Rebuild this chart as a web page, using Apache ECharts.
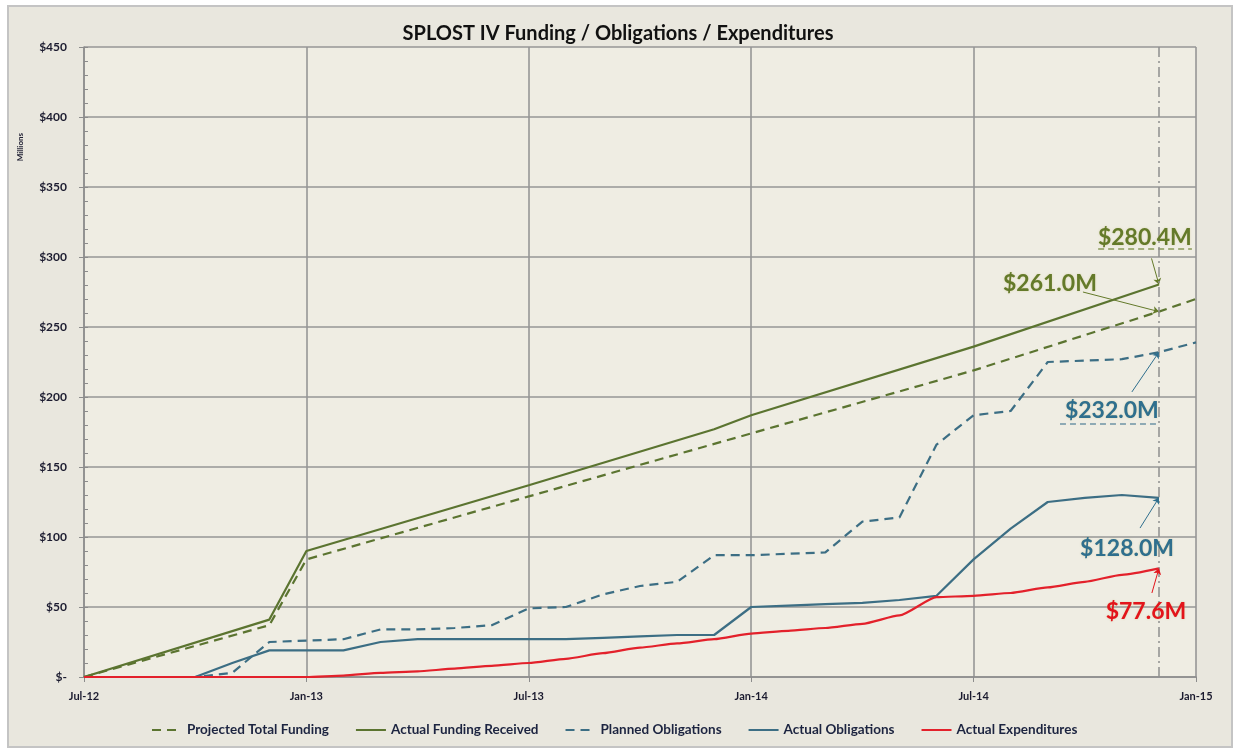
<!DOCTYPE html>
<html>
<head>
<meta charset="utf-8">
<script src="https://cdn.jsdelivr.net/npm/echarts@6/dist/echarts.min.js"></script>
<style>
  html, body { margin: 0; padding: 0; background: #fff; }
  #chart { width: 1236px; height: 751px; }
</style>
</head>
<body>
<div id="chart"></div>
<script>
// x = months since Jul-12
const xLabels = ["Jul-12", "Jan-13", "Jul-13", "Jan-14", "Jul-14", "Jan-15"];
const yLabels = ["$-", "$50", "$100", "$150", "$200", "$250", "$300", "$350", "$400", "$450"];

const projMonths = [0, 5, 6, 12, 18, 24, 29, 30];
const projFunding = [0, 37, 84, 129, 174, 219, 261, 270];

const fundMonths = [0, 5, 6, 12, 17, 18, 24, 29];
const fundActual = [0, 41, 90, 137, 177, 187, 236, 280.4];

const planMonths = [0, 1, 2, 3, 4, 5, 6, 7, 8, 9, 10, 11, 12, 13, 14, 15, 16, 17, 18, 19, 20, 21, 22, 23, 24, 25, 26, 27, 28, 29, 30];
const plannedOblig = [0, 0, 0, 0, 3, 25, 26, 27, 34, 34, 35, 37, 49, 50, 59, 65, 68, 87, 87, 88, 89, 111, 114, 166, 187, 190, 225, 226, 227, 232, 239];

const actMonths = [0, 1, 2, 3, 4, 5, 6, 7, 8, 9, 10, 11, 12, 13, 14, 15, 16, 17, 18, 19, 20, 21, 22, 23, 24, 25, 26, 27, 28, 29];
const actualOblig = [0, 0, 0, 0, 10, 19, 19, 19, 25, 27, 27, 27, 27, 27, 28, 29, 30, 30, 50, 51, 52, 53, 55, 58, 84, 106, 125, 128, 130, 128];
const actualExp = [0, 0, 0, 0, 0, 0, 0, 1, 3, 4, 6, 8, 10, 13, 17, 21, 24, 27, 31, 33, 35, 38, 44, 57, 58, 60, 64, 68, 73, 77.6];

const reportMonth = 29;

const OLIVE = "#5b7430";
const TEAL = "#3c6e84";
const RED = "#e3212b";

const pairs = (xs, ys) => xs.map((x, i) => [x, ys[i]]);

// callout: text anchor + arrow start, both in data coords
const callout = (text, color, textAt, from, to) => ({
  markPoint: {
    symbol: "circle",
    symbolSize: 0,
    silent: true,
    data: [{
      coord: textAt,
      label: {
        show: true,
        formatter: text,
        color: color,
        fontSize: 23,
        fontWeight: "bold",
        fontFamily: "Lato",
        textShadowColor: "rgba(200,190,120,0.5)",
        textShadowBlur: 2,
      },
    }],
  },
  markLine: {
    silent: true,
    symbol: ["none", "arrow"],
    symbolSize: 6,
    lineStyle: { color: color, width: 1, type: "solid" },
    label: { show: false },
    data: [[{ coord: from }, { coord: to }]],
  },
});

const chart = echarts.init(document.getElementById("chart"));

const c280 = callout("$280.4M", "#647a2a", [28.62, 313.6], [28.8, 299], [29, 280.4]);
c280.markLine.data.push([
  { coord: [27.36, 305.7], symbol: "none", lineStyle: { type: [6, 4], width: 1.5, color: "#8a9a5a" } },
  { coord: [29.89, 305.7], symbol: "none" },
]);
c280.markLine.data.push([
  { xAxis: reportMonth, yAxis: 0, symbol: "none", lineStyle: { type: [10, 4, 2, 4], width: 1.5, color: "#8f8f8f" } },
  { xAxis: reportMonth, yAxis: 450, symbol: "none" },
]);

const c261 = callout("$261.0M", "#647a2a", [26.06, 280.7], [26.95, 275], [29, 261]);
const c232 = callout("$232.0M", "#2f6f8e", [27.73, 190], [28.27, 203.6], [29, 232]);
c232.markLine.data.push([
  { coord: [26.33, 180.7], symbol: "none", lineStyle: { type: [6, 4], width: 1.5, color: "#6f94a6" } },
  { coord: [29.03, 180.7], symbol: "none" },
]);
const c128 = callout("$128.0M", "#2f6f8e", [28.14, 91.4], [28.49, 106.4], [29, 128]);
const c77 = callout("$77.6M", "#e3141b", [28.65, 46.4], [28.81, 60], [29, 77.6]);

chart.setOption({
  backgroundColor: "#ffffff",
  animation: false,
  textStyle: { fontFamily: "Lato" },
  graphic: [
    {
      type: "rect",
      left: 7,
      top: 5,
      shape: { width: 1224, height: 741 },
      style: { fill: "#e9e7de", stroke: "#c4c4c4", lineWidth: 2 },
      z: -10,
    },
    {
      type: "text",
      left: 16,
      top: 133,
      rotation: Math.PI / 2,
      style: { text: "Millions", fill: "#1b1b2f", font: "bold 8px Lato" },
    },
  ],
  title: {
    text: "SPLOST IV Funding / Obligations / Expenditures",
    left: "center",
    top: 19,
    textStyle: { fontFamily: "Lato", fontSize: 20, fontWeight: "bold", color: "#111111" },
  },
  grid: {
    left: 84,
    right: 40,
    top: 47,
    bottom: 74,
    show: true,
    backgroundColor: "#efede3",
    borderWidth: 0,
  },
  legend: {
    bottom: 9,
    left: 146,
    itemGap: 26,
    itemWidth: 30,
    itemHeight: 10,
    itemStyle: { opacity: 0 },
    textStyle: { fontFamily: "Lato", fontSize: 13.5, fontWeight: "bold", color: "#1c2440" },
    data: ["Projected Total Funding", "Actual Funding Received", "Planned Obligations", "Actual Obligations", "Actual Expenditures"],
  },
  xAxis: {
    type: "value",
    min: 0,
    max: 30,
    interval: 6,
    axisLine: { lineStyle: { color: "#8c8c8c", width: 1.5 } },
    axisTick: { show: true, length: 5, lineStyle: { color: "#8c8c8c" } },
    axisLabel: {
      margin: 14,
      color: "#1b1b2f",
      fontSize: 11,
      fontWeight: "bold",
      formatter: (v) => xLabels[v / 6],
    },
    splitLine: { show: true, lineStyle: { color: "#969696", width: 1.6 } },
  },
  yAxis: [
    {
      type: "value",
      min: 0,
      max: 450,
      interval: 50,
      axisLine: { show: true, lineStyle: { color: "#8c8c8c", width: 1.5 } },
      axisTick: { show: true, length: 5, lineStyle: { color: "#8c8c8c" } },
      axisLabel: {
        margin: 17,
        color: "#1b1b2f",
        fontSize: 12,
        fontWeight: "bold",
        formatter: (v) => yLabels[v / 50],
      },
      splitLine: { show: true, lineStyle: { color: "#969696", width: 1.6 } },
    },
    {
      type: "value",
      position: "left",
      min: 0,
      max: 450,
      interval: 10,
      axisLine: { show: false },
      axisTick: { show: true, inside: true, length: 4, lineStyle: { color: "#8c8c8c" } },
      axisLabel: { show: false },
      splitLine: { show: false },
    },
  ],
  series: [
    Object.assign({
      name: "Projected Total Funding",
      type: "line",
      symbol: "none",
      color: OLIVE,
      lineStyle: { color: OLIVE, width: 2.2, type: [9, 6] },
      data: pairs(projMonths, projFunding),
      z: 3,
    }, c261),
    Object.assign({
      name: "Actual Funding Received",
      type: "line",
      symbol: "none",
      color: OLIVE,
      lineStyle: { color: OLIVE, width: 2.2 },
      data: pairs(fundMonths, fundActual),
      z: 4,
    }, c280),
    Object.assign({
      name: "Planned Obligations",
      type: "line",
      symbol: "none",
      color: TEAL,
      lineStyle: { color: TEAL, width: 2.2, type: [9, 6] },
      data: pairs(planMonths, plannedOblig),
      z: 3,
    }, c232),
    Object.assign({
      name: "Actual Obligations",
      type: "line",
      symbol: "none",
      color: TEAL,
      lineStyle: { color: TEAL, width: 2.2 },
      data: pairs(actMonths, actualOblig),
      z: 4,
    }, c128),
    Object.assign({
      name: "Actual Expenditures",
      type: "line",
      symbol: "none",
      smooth: 0.2,
      smoothMonotone: "x",
      color: RED,
      lineStyle: { color: RED, width: 2.2 },
      data: pairs(actMonths, actualExp),
      z: 4,
    }, c77),
  ],
});
</script>
</body>
</html>
